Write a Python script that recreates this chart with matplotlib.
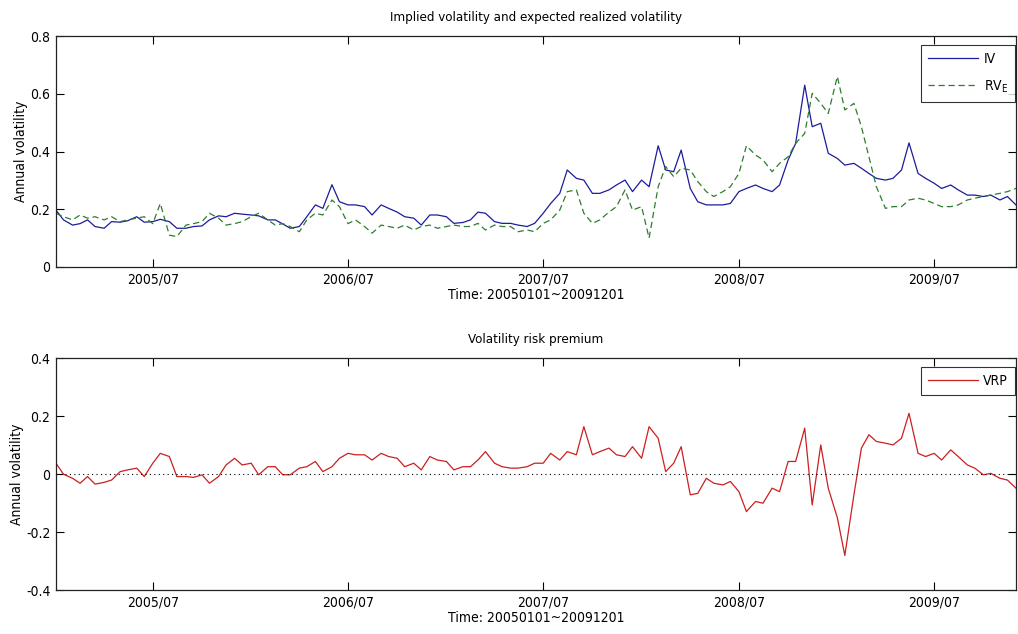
import numpy as np
import pandas as pd
import matplotlib
matplotlib.use('Agg')
import matplotlib.pyplot as plt
import matplotlib.dates as mdates

plt.rcParams['font.family'] = ['DejaVu Sans']
plt.rcParams['font.stretch'] = 'condensed'
plt.rcParams['font.size'] = 9

# semi-monthly sampling, 2005-01-01 .. 2009-12-01
fechas = pd.date_range('2005-01-01', '2009-12-01', freq='SMS')

iv = [0.197, 0.163, 0.145, 0.150, 0.163, 0.140, 0.134, 0.157, 0.155, 0.160,
      0.174, 0.155, 0.157, 0.165, 0.157, 0.134, 0.134, 0.140, 0.142, 0.163,
      0.177, 0.174, 0.186, 0.183, 0.180, 0.177, 0.163, 0.163, 0.149, 0.134,
      0.140, 0.174, 0.215, 0.203, 0.285, 0.226, 0.215, 0.215, 0.209, 0.180,
      0.215, 0.203, 0.190, 0.174, 0.169, 0.145, 0.180, 0.180, 0.174, 0.151,
      0.154, 0.163, 0.190, 0.186, 0.157, 0.151, 0.151, 0.145, 0.140, 0.151,
      0.186, 0.220, 0.255, 0.336, 0.307, 0.301, 0.255, 0.255, 0.267, 0.284,
      0.301, 0.261, 0.301, 0.278, 0.420, 0.336, 0.330, 0.405, 0.272, 0.226,
      0.215, 0.215, 0.215, 0.220, 0.261, 0.272, 0.284, 0.272, 0.261, 0.284,
      0.371, 0.428, 0.630, 0.486, 0.498, 0.394, 0.376, 0.353, 0.359, 0.342,
      0.324, 0.307, 0.301, 0.307, 0.336, 0.430, 0.324, 0.307, 0.290, 0.272,
      0.284, 0.267, 0.249, 0.249, 0.244, 0.249, 0.232, 0.244, 0.215]

rv_e = [0.186, 0.174, 0.163, 0.180, 0.169, 0.174, 0.163, 0.174, 0.157, 0.163,
        0.169, 0.174, 0.150, 0.220, 0.110, 0.105, 0.145, 0.150, 0.157, 0.186,
        0.169, 0.145, 0.150, 0.157, 0.174, 0.186, 0.163, 0.145, 0.150, 0.140,
        0.122, 0.163, 0.186, 0.180, 0.232, 0.209, 0.150, 0.163, 0.140, 0.117,
        0.145, 0.140, 0.134, 0.145, 0.128, 0.140, 0.145, 0.134, 0.140, 0.145,
        0.140, 0.140, 0.151, 0.128, 0.145, 0.140, 0.140, 0.122, 0.128, 0.122,
        0.151, 0.163, 0.197, 0.261, 0.267, 0.186, 0.151, 0.163, 0.190, 0.209,
        0.267, 0.197, 0.209, 0.100, 0.278, 0.348, 0.313, 0.342, 0.336, 0.296,
        0.261, 0.244, 0.261, 0.278, 0.324, 0.420, 0.388, 0.371, 0.330, 0.359,
        0.382, 0.428, 0.463, 0.602, 0.567, 0.532, 0.660, 0.544, 0.567, 0.486,
        0.382, 0.278, 0.203, 0.209, 0.209, 0.232, 0.238, 0.232, 0.220, 0.209,
        0.209, 0.215, 0.232, 0.238, 0.244, 0.249, 0.255, 0.261, 0.272]

vrp = [0.038, 0.000, -0.014, -0.031, -0.008, -0.034, -0.028, -0.020, 0.009, 0.015,
       0.021, -0.008, 0.038, 0.072, 0.061, -0.008, -0.008, -0.011, -0.002, -0.031,
       -0.008, 0.032, 0.055, 0.032, 0.038, -0.002, 0.026, 0.026, -0.002, -0.002,
       0.021, 0.026, 0.044, 0.009, 0.026, 0.055, 0.072, 0.067, 0.067, 0.049,
       0.072, 0.061, 0.055, 0.026, 0.038, 0.015, 0.061, 0.049, 0.044, 0.015,
       0.026, 0.026, 0.049, 0.078, 0.038, 0.026, 0.021, 0.021, 0.026, 0.038,
       0.038, 0.072, 0.049, 0.078, 0.067, 0.164, 0.067, 0.078, 0.090, 0.067,
       0.061, 0.095, 0.055, 0.164, 0.124, 0.009, 0.038, 0.095, -0.071, -0.066,
       -0.014, -0.031, -0.037, -0.025, -0.060, -0.129, -0.094, -0.100, -0.048, -0.060,
       0.044, 0.044, 0.159, -0.106, 0.101, -0.048, -0.150, -0.280, -0.071, 0.090,
       0.136, 0.113, 0.107, 0.101, 0.124, 0.210, 0.072, 0.061, 0.072, 0.049,
       0.084, 0.061, 0.032, 0.021, -0.002, 0.003, -0.014, -0.020, -0.048]

fig = plt.figure(figsize=(10.18, 6.34), dpi=100)
ax1 = fig.add_axes([0.055, 0.579, 0.943, 0.364])
ax2 = fig.add_axes([0.055, 0.069, 0.943, 0.366])

ax1.plot(fechas, iv, color='#1c1c9c', lw=0.9, label='IV')
ax1.plot(fechas, rv_e, color='#2e7d2e', lw=0.9, ls=(0, (5, 3)), label=r'RV$_\mathregular{E}$')
ax1.set_ylim(0, 0.8)
ax1.set_yticks([0, 0.2, 0.4, 0.6, 0.8])
ax1.set_yticklabels(['0', '0.2', '0.4', '0.6', '0.8'])
ax1.set_title('Implied volatility and expected realized volatility', fontsize=9.5, pad=11)

ax2.plot(fechas, vrp, color='#cc1f1f', lw=0.9, label='VRP')
ax2.axhline(0, color='black', lw=0.8, ls=(0, (1, 3)))
ax2.set_ylim(-0.4, 0.4)
ax2.set_yticks([-0.4, -0.2, 0, 0.2, 0.4])
ax2.set_yticklabels(['-0.4', '-0.2', '0', '0.2', '0.4'])
ax2.set_title('Volatility risk premium', fontsize=9.5, pad=11)

for ax, espacio, xlab in ((ax1, 0.9, -0.029), (ax2, 0.3, -0.033)):
    ax.set_xlim(pd.Timestamp('2005-01-01'), pd.Timestamp('2009-12-01'))
    ax.xaxis.set_major_locator(mdates.MonthLocator(bymonth=7, bymonthday=1))
    ax.xaxis.set_major_formatter(mdates.DateFormatter('%Y/%m'))
    ax.tick_params(direction='in', top=True, right=True, length=6, width=0.8,
                   labelsize=10, pad=4)
    for s in ax.spines.values():
        s.set_color('#222222')
        s.set_linewidth(0.9)
    ax.set_xlabel('Time: 20050101~20091201', fontsize=10, labelpad=1)
    ax.set_ylabel('Annual volatility', fontsize=10)
    ax.yaxis.set_label_coords(xlab, 0.5)
    leg = ax.legend(loc='upper right', bbox_to_anchor=(0.999, 0.962), fontsize=10,
                    frameon=True, fancybox=False, handlelength=3.6,
                    borderaxespad=0, borderpad=0.5, labelspacing=espacio,
                    handletextpad=0.4)
    leg.get_frame().set_edgecolor('black')
    leg.get_frame().set_linewidth(0.8)

fig.savefig('out.png', dpi=100)
